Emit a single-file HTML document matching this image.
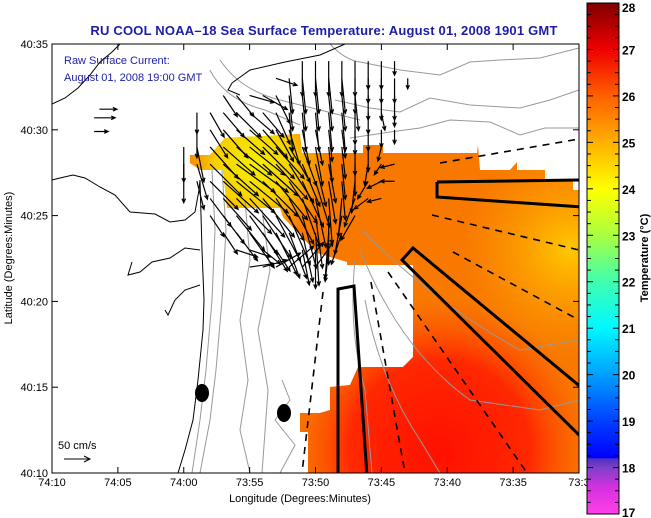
<!DOCTYPE html>
<html><head><meta charset="utf-8"><style>
html,body{margin:0;padding:0;background:#fff;}
svg{display:block;font-family:"Liberation Sans",Arial,sans-serif;}
</style></head><body>
<svg id="chart" width="651" height="518" viewBox="0 0 651 518">
<defs>
<clipPath id="plotclip"><rect x="52" y="44" width="527" height="429"/></clipPath>
<clipPath id="sstclip"><path id="sstpath" d="M190,163 L190,155 L210,155 L225,138 L300,134 L302,153 L363,153 L363,145 L383,145 L383,153 L477,153 L478,145 L480,170 L510,170 L517,162 L517,170 L545,170 L545,180 L573,180 L573,190 L579,190 L579,473 L308,473 L308,432 L300,432 L300,413 L320,413 L330,410 L330,387 L350,385 L358,367 L403,367 L413,357 L413,265 L347,265 L347,262 L317,253 L283,217 L280,208 L227,208 L223,170 L200,170 Z M330,163 L363,163 L363,180 L335,180 Z"/></clipPath>
<linearGradient id="cbgrad" x1="0" y1="1" x2="0" y2="0">
<stop offset="0" stop-color="#ff40e8"/>
<stop offset="0.05" stop-color="#d830e0"/>
<stop offset="0.09" stop-color="#8040c8"/>
<stop offset="0.108" stop-color="#5030c0"/>
<stop offset="0.11" stop-color="#0000ff"/>
<stop offset="0.182" stop-color="#0040ff"/>
<stop offset="0.273" stop-color="#00a0ff"/>
<stop offset="0.364" stop-color="#00f8ff"/>
<stop offset="0.455" stop-color="#40ffb0"/>
<stop offset="0.545" stop-color="#a8ff40"/>
<stop offset="0.636" stop-color="#ffff00"/>
<stop offset="0.727" stop-color="#ffb000"/>
<stop offset="0.818" stop-color="#ff6000"/>
<stop offset="0.909" stop-color="#f00000"/>
<stop offset="1" stop-color="#800000"/>
</linearGradient>
<radialGradient id="yel" cx="255" cy="165" r="80" gradientUnits="userSpaceOnUse">
<stop offset="0" stop-color="#f4f000"/><stop offset="0.5" stop-color="#f8d000"/><stop offset="1" stop-color="#f8a000" stop-opacity="0"/>
</radialGradient>
<radialGradient id="ryel" cx="570" cy="250" r="110" gradientUnits="userSpaceOnUse">
<stop offset="0" stop-color="#ffc800"/><stop offset="1" stop-color="#ffa000" stop-opacity="0"/>
</radialGradient>
<radialGradient id="red" cx="440" cy="450" r="150" gradientUnits="userSpaceOnUse">
<stop offset="0" stop-color="#ff1000"/><stop offset="0.6" stop-color="#ff2800"/><stop offset="1" stop-color="#ff5000" stop-opacity="0"/>
</radialGradient>
</defs>

<text x="324" y="35" text-anchor="middle" font-size="13" font-weight="bold" fill="#1c1ca8" letter-spacing="0.2">RU COOL  NOAA–18  Sea Surface Temperature:  August 01, 2008 1901 GMT</text>

<g clip-path="url(#plotclip)">
<rect x="52" y="44" width="527" height="429" fill="#fff"/>
<g clip-path="url(#sstclip)">
<rect x="52" y="44" width="527" height="429" fill="#f87800"/>
<rect x="52" y="44" width="527" height="429" fill="url(#ryel)"/>
<rect x="52" y="44" width="527" height="429" fill="url(#red)"/>
<rect x="52" y="44" width="527" height="429" fill="url(#yel)"/>
</g>
<g fill="none" stroke="#999" stroke-width="1">
<path d="M330,44 Q345,60 360,62 L400,70 L440,75 L470,62 L500,60 L540,58 L579,48"/>
<path d="M335,100 L370,108 L400,112 L430,98 L470,105 L520,108 L550,100 L579,90"/>
<path d="M350,138 L390,132 L420,128 L450,120 L490,122 L520,135 L545,128 L579,128"/>
<path d="M220,60 Q240,90 280,100 L320,110 L360,120"/>
<path d="M210,70 Q225,100 265,110 L300,125"/>
<path d="M212,170 L215,230 L212,300 L206,370 L200,420 L192,473"/>
<path d="M222,170 L226,230 L222,300 L216,370 L210,420 L200,473"/>
<path d="M245,200 L250,260 L240,320 L248,380 L240,430 L250,473"/>
<path d="M262,210 L270,270 L258,330 L268,390 L262,473"/>
<path d="M355,260 Q348,330 365,390 L372,473"/>
<path d="M365,300 Q380,380 420,440 L440,473"/>
<path d="M360,250 Q400,350 470,400 L540,410 L579,400"/>
<path d="M362,230 Q430,300 520,350 L579,340"/>
<path d="M282,380 L290,400 L275,420 L295,445 L280,473"/>
</g>
<g fill="none" stroke="#000" stroke-width="1">
<path d="M52,104 L65,98 L78,88 L90,75 L100,62 L112,52 L120,44"/>
<path d="M52,180 L60,178 L73,175 L85,178 L100,187 L115,195 L130,212 L155,214 L170,222 L185,220 L195,212 L199,190 L200,180"/>
<path d="M200,180 L202,250 L204,300 L203,330 L198,380 L193,420 L185,450 L178,473"/>
<path d="M200,250 L185,248 L170,258 L152,262 L140,272 L128,275 L132,262"/>
<path d="M200,285 L185,290 L175,300 L168,315 L165,310"/>
<path d="M232,83 L250,70 L285,62 L320,55 L345,44"/>
<path d="M232,83 L228,90 L240,95"/>
</g>
<g fill="none" stroke="#000" stroke-width="3">
<path d="M437,182 L582,180 M582,207 L437,197 L437,182"/>
<path d="M582,388 L413,248 L402,260 L582,438"/>
<path d="M338,476 L338,289 L354,286 L367,476"/>
</g>
<g fill="none" stroke="#000" stroke-width="1.6" stroke-dasharray="7,6">
<path d="M323,292 L302,473"/>
<path d="M371,282 L405,473"/>
<path d="M388,272 L527,473"/>
<path d="M453,252 L579,320"/>
<path d="M440,163 L579,139"/>
<path d="M432,215 L579,250"/>
</g>
<ellipse cx="202" cy="393" rx="7" ry="9" fill="#000"/>
<ellipse cx="284" cy="413" rx="7" ry="9" fill="#000"/>
<g id="vectors"></g>
</g>

<rect x="52" y="44" width="527" height="429" fill="none" stroke="#000" stroke-width="1"/>
<text x="64" y="64" font-size="11" fill="#1c1ca8">Raw Surface Current:</text>
<text x="64" y="81" font-size="11" fill="#1c1ca8">August 01, 2008 19:00 GMT</text>
<text x="58" y="449" font-size="11" fill="#000">50 cm/s</text>
<g stroke="#000" stroke-width="1" fill="none"><path d="M64,459 L90,459 M84,456 L90,459 L84,462"/></g>

<g id="axes"></g>
<text x="300" y="502" text-anchor="middle" font-size="11">Longitude (Degrees:Minutes)</text>
<text transform="translate(12,258) rotate(-90)" text-anchor="middle" font-size="11">Latitude (Degrees:Minutes)</text>

<rect x="587" y="3" width="32" height="511" fill="url(#cbgrad)" stroke="#000" stroke-width="1"/>
<g id="cbticks"></g>
<text transform="translate(648,258) rotate(-90)" text-anchor="middle" font-size="11" font-weight="bold">Temperature (°C)</text>
</svg>
<script>
// axis data
const lonLabels = ["74:10","74:05","74:00","73:55","73:50","73:45","73:40","73:35","73:3"];
const latLabels = ["40:35","40:30","40:25","40:20","40:15","40:10"];
const cbLabels = [28,27,26,25,24,23,22,21,20,19,18,17];
// current vectors: position in minutes (east of 74:10, north of 40:10), u/v in cm/s
const vecLon = [19,20,21,22,23,24,25,26, 17,18,19,20,21,22,23,24,25,26,27, 13,14,15,16,17,18,19,20,21,22,23,24,25,26, 11,12,13,14,15,16,17,18,19,20,21,22,23,24,25,26, 11,12,13,14,15,16,17,18,19,20,21,22,23,24,25,26, 10,11,12,13,14,15,16,17,18,19,20,21,22,23,24,25, 10,11,12,13,14,15,16,17,18,19,20,21,22,23,24,25,26, 11,12,13,14,15,16,17,18,19,20,21,22,23,24,25,26, 12,13,14,15,16,17,18,19,20,21,22,23,24,25, 12,13,14,15,16,17,18,19,20,21,22,23, 13,14,15,16,17,18,19,20,21,22, 14,15,16,17,18,19,20,21, 15,16,17,18,19,20, 3.2,3.6,3.2];
const vecLat = [24,24,24,24,24,24,24,24, 23,23,23,23,23,23,23,23,23,23,23, 22,22,22,22,22,22,22,22,22,22,22,22,22,22, 21,21,21,21,21,21,21,21,21,21,21,21,21,21,21,21, 20,20,20,20,20,20,20,20,20,20,20,20,20,20,20,20, 19,19,19,19,19,19,19,19,19,19,19,19,19,19,19,19, 18,18,18,18,18,18,18,18,18,18,18,18,18,18,18,18,18, 17,17,17,17,17,17,17,17,17,17,17,17,17,17,17,17, 16,16,16,16,16,16,16,16,16,16,16,16,16,16, 15,15,15,15,15,15,15,15,15,15,15,15, 14,14,14,14,14,14,14,14,14,14, 13,13,13,13,13,13,13,13, 12,12,12,12,12,12, 20.7,21.2,19.9];
const vecU = [0,0,0,0,0,0,0,0, 30,5,5,5,5,5,0,0,0,0,0, 20,25,35,35,20,5,5,5,5,5,5,0,0,0, 0,20,30,35,35,30,20,5,5,5,5,5,0,0,5,0, 0,25,35,40,40,35,25,15,10,10,5,5,0,0,0,0, 0,10,40,45,50,50,45,40,30,20,10,5,5,0,0,-5, 0,15,45,50,55,55,50,45,35,25,15,10,5,0,-5,-10,-20, 10,40,50,55,55,50,45,40,30,20,10,5,-5,-15,-20,-20, 30,40,50,50,45,40,35,25,15,5,-5,-15,-20,-20, 20,30,40,40,40,35,30,20,10,0,-10,-20, 20,30,35,35,30,25,15,5,-5,-15, 30,30,25,20,15,10,0,-5, 35,35,35,35,30,25, 30,25,20];
const vecV = [-50,-50,-50,-50,-50,-40,-40,-20, -10,-50,-50,-50,-50,-50,-50,-35,-35,-35,-15, -30,-30,-10,-20,-40,-50,-50,-50,-50,-50,-50,-35,-35,-35, -30,-35,-35,-35,-30,-35,-45,-55,-55,-55,-55,-55,-45,-30,-25,-20, -40,-40,-40,-35,-35,-40,-45,-50,-50,-50,-45,-40,-35,-30,-25,-20, -50,-50,-45,-40,-40,-40,-45,-45,-50,-55,-55,-50,-45,-40,-35,-20, -55,-50,-45,-45,-40,-40,-45,-50,-55,-60,-60,-55,-50,-45,-30,-15,-5, -40,-40,-45,-45,-45,-50,-55,-60,-65,-65,-60,-55,-45,-25,-10,0, -40,-45,-50,-55,-55,-60,-65,-70,-70,-65,-55,-40,-15,-5, -30,-40,-50,-55,-60,-65,-70,-75,-75,-70,-55,-35, -30,-40,-50,-55,-60,-65,-70,-75,-65,-45, -10,-10,-20,-30,-40,-50,-55,-45, 5,10,20,30,35,35, 0,0,0];

const NS="http://www.w3.org/2000/svg";
const X0=52, X1=579, Y0=44, Y1=473;
function xScale(m){return X0+(X1-X0)*m/40;}
function yScale(m){return Y1-(Y1-Y0)*m/25;}
const pxPerCm=0.7;

const vg=document.getElementById('vectors');
for(let i=0;i<vecLon.length;i++){
  const x=xScale(vecLon[i]), y=yScale(vecLat[i]);
  const dx=vecU[i]*pxPerCm, dy=-vecV[i]*pxPerCm;
  const L=Math.hypot(dx,dy); if(L<0.5) continue;
  const ux=dx/L, uy=dy/L, h=Math.min(4,L*0.35);
  const ex=x+dx, ey=y+dy;
  const p=document.createElementNS(NS,'path');
  p.setAttribute('d',`M${x},${y} L${ex},${ey} M${ex-ux*h-uy*h*0.45},${ey-uy*h+ux*h*0.45} L${ex},${ey} L${ex-ux*h+uy*h*0.45},${ey-uy*h-ux*h*0.45}`);
  p.setAttribute('stroke','#000'); p.setAttribute('stroke-width','1.2'); p.setAttribute('fill','none');
  
  
  vg.appendChild(p);
}

const ax=document.getElementById('axes');
function mk(tag,attrs,txt){const e=document.createElementNS(NS,tag);for(const k in attrs)e.setAttribute(k,attrs[k]);if(txt!==undefined)e.textContent=txt;return e;}
lonLabels.forEach((lab,i)=>{
  const x=xScale(i*5);
  const t1=mk('line',{x1:x,x2:x,y1:Y1,y2:Y1-6,stroke:'#000'});
  
  
  ax.appendChild(t1);
  const t2=mk('line',{x1:x,x2:x,y1:Y0,y2:Y0+6,stroke:'#000'});
  
  
  ax.appendChild(t2);
  const tx=mk('text',{x:x,y:486,'text-anchor':'middle','font-size':'11'},lab);
  
  
  ax.appendChild(tx);
});
latLabels.forEach((lab,i)=>{
  const y=yScale(25-i*5);
  const t1=mk('line',{x1:X0,x2:X0+6,y1:y,y2:y,stroke:'#000'});
  
  
  ax.appendChild(t1);
  const t2=mk('line',{x1:X1,x2:X1-6,y1:y,y2:y,stroke:'#000'});
  
  
  ax.appendChild(t2);
  const tx=mk('text',{x:48,y:y+4,'text-anchor':'end','font-size':'11'},lab);
  
  
  ax.appendChild(tx);
});
const cb=document.getElementById('cbticks');
const CB0=3, CB1=514;
function cbScale(v){return CB1-(CB1-CB0)*(v-17)/11;}
for(let k=0;k<=44;k++){
  const v=17+k*0.25, y=cbScale(v), len=(k%4===0)?6:4;
  const a=mk('line',{x1:587,x2:587+len,y1:y,y2:y,stroke:'#000'});
  
  
  cb.appendChild(a);
  const b=mk('line',{x1:619,x2:619-len,y1:y,y2:y,stroke:'#000'});
  
  
  cb.appendChild(b);
}
cbLabels.forEach(v=>{
  const y=cbScale(v);
  const t=mk('text',{x:622,y:Math.min(Math.max(y+5,12),517),'font-size':'12','font-weight':'bold'},String(v));
  
  
  cb.appendChild(t);
});
</script>
</body></html>
